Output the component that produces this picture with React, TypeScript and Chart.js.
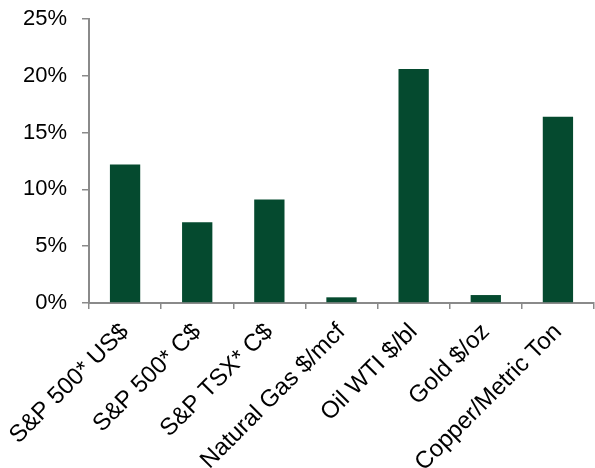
import React, { useEffect, useRef } from "react";
import { Chart, registerables } from "chart.js";

Chart.register(...registerables);

const categories = [
  "S&P 500* US$",
  "S&P 500* C$",
  "S&P TSX* C$",
  "Natural Gas $/mcf",
  "Oil WTI $/bl",
  "Gold $/oz",
  "Copper/Metric Ton",
];
const returnsPct = [12.2, 7.1, 9.1, 0.5, 20.6, 0.7, 16.4];
const yTicks = [0, 5, 10, 15, 20, 25];

export default function App() {
  const ref = useRef<HTMLCanvasElement | null>(null);

  useEffect(() => {
    if (!ref.current) return;
    const axisColor = "#8a8a8a";
    const font = "'Liberation Sans', Arial, sans-serif";
    const chart = new Chart(ref.current, {
      type: "bar",
      data: {
        labels: categories,
        datasets: [
          {
            data: returnsPct,
            backgroundColor: "#054a2f",
            borderWidth: 0,
            barPercentage: 0.42,
            categoryPercentage: 1,
          },
        ],
      },
      options: {
        animation: false,
        responsive: true,
        maintainAspectRatio: false,
        layout: { padding: { top: 19, right: 1, left: 0, bottom: 0 } },
        plugins: { legend: { display: false }, tooltip: { enabled: false } },
        scales: {
          x: {
            grid: {
              display: true,
              drawOnChartArea: false,
              drawTicks: true,
              tickLength: 6,
              color: axisColor,
              lineWidth: 1.5,
              offset: true,
            },
            border: { display: true, color: axisColor, width: 2 },
            ticks: {
              minRotation: 45,
              maxRotation: 45,
              padding: 9,
              color: "#000",
              font: { family: font, size: 24 },
              autoSkip: false,
            },
            afterFit: (scale: any) => {
              scale.height = 165;
              scale.paddingLeft = 0;
              scale.paddingRight = 0;
            },
          },
          y: {
            min: 0,
            max: 25,
            afterBuildTicks: (scale: any) => {
              scale.ticks = yTicks.map((v) => ({ value: v }));
            },
            grid: {
              display: true,
              drawOnChartArea: false,
              drawTicks: true,
              tickLength: 7,
              color: axisColor,
              lineWidth: 1.5,
            },
            border: { display: true, color: axisColor, width: 2 },
            ticks: {
              padding: 15,
              color: "#000",
              font: { family: font, size: 22 },
              callback: (v: any) => v + "%",
            },
            afterFit: (scale: any) => {
              scale.width = 89;
              scale.paddingTop = 0;
              scale.paddingBottom = 0;
            },
          },
        },
      },
    });
    return () => chart.destroy();
  }, []);

  return (
    <div style={{ position: "fixed", left: 0, top: 0, width: 595, height: 468, background: "#fff" }}>
      <canvas ref={ref} />
    </div>
  );
}
